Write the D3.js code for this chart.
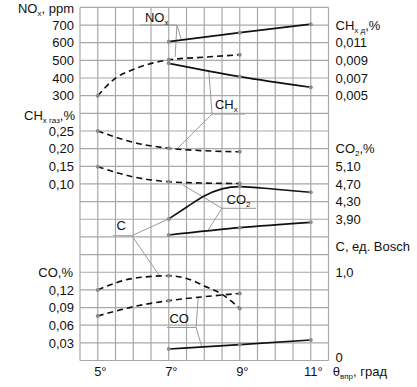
<!DOCTYPE html>
<html>
<head>
<meta charset="utf-8">
<script src="https://cdn.jsdelivr.net/npm/d3@7"></script>
<style>
  body { margin: 0; background: #fff; }
  text { font-family: "Liberation Sans", Arial, sans-serif; font-size: 13px; fill: #111; }
</style>
</head>
<body>
<div id="chart"></div>
<script>
// angle of injection advance, degrees
const angleTicks = [5, 7, 9, 11];

// left axes
const noxTicks = [300, 400, 500, 600, 700];
const chxGasTicks = [0.10, 0.15, 0.20, 0.25];
const coTicks = [0.03, 0.06, 0.09, 0.12];
// right axes
const chxDTicks = [0.005, 0.007, 0.009, 0.011];
const co2Ticks = [3.90, 4.30, 4.70, 5.10];
const cTicks = [0, 1.0];

// series (angle, value)
const noxSolidX = [7, 9, 11],            noxSolidV = [606, 657, 705];
const noxDashX = [5, 5.5, 6, 7, 8, 9],   noxDashV = [300, 399, 448, 503, 518, 532];
const chxDX = [7, 9, 11],                chxDV = [0.00866, 0.00716, 0.00596];
const chxGasX = [5, 6, 7, 8, 9],         chxGasV = [0.250, 0.218, 0.201, 0.194, 0.191];
const co2DashX = [5, 6, 7, 8, 9],        co2DashV = [5.09, 4.86, 4.75, 4.72, 4.71];
const cSolidX = [7, 7.5, 8, 8.5, 9, 10, 11], cSolidV = [1.604, 1.736, 1.864, 1.944, 1.97, 1.94, 1.906];
const co2SolidX = [7, 9, 11],            co2SolidV = [3.544, 3.71, 3.83];
const cDashX = [5, 6, 7, 7.5, 8, 8.5, 9], cDashV = [0.80, 0.93, 0.96, 0.93, 0.845, 0.75, 0.59];
const coDashX = [5, 6, 7, 8, 9],         coDashV = [0.0756, 0.0914, 0.1017, 0.1084, 0.114];
const coSolidX = [7, 9, 11],             coSolidV = [0.0195, 0.027, 0.0348];
const markAt = [5, 7, 9, 11];

const W = 417, H = 387;
const gLeft = 80, gRight = 328.5, gTop = 7.4, gBottom = 360.5;

const svg = d3.select("#chart").append("svg")
    .attr("width", W).attr("height", H);

const x = d3.scaleLinear().domain([4.5, 11.5]).range([gLeft, gRight]);
// grid rows, 20 cells
const row = d3.scaleLinear().domain([0, 20]).range([gBottom, gTop]);

const yNox = d3.scaleLinear().domain([300, 700]).range([row(15), row(19)]);
const yChxGas = d3.scaleLinear().domain([0.10, 0.25]).range([row(10), row(13)]);
const yCo = d3.scaleLinear().domain([0, 0.12]).range([row(0), row(4)]);
const yChxD = d3.scaleLinear().domain([0.005, 0.011]).range([row(15), row(18)]);
const yCo2 = d3.scaleLinear().domain([3.90, 5.10]).range([row(8), row(11)]);
const yC = d3.scaleLinear().domain([0, 1.0]).range([row(0), row(5)]);

// grid
const grid = svg.append("g").attr("stroke", "#a8a8a8").attr("stroke-width", 1.2);
grid.selectAll(".v").data(d3.range(4.5, 11.51, 0.5)).join("line")
    .attr("x1", d => x(d)).attr("x2", d => x(d))
    .attr("y1", gTop).attr("y2", gBottom);
grid.selectAll(".h").data(d3.range(0, 21)).join("line")
    .attr("x1", gLeft).attr("x2", gRight)
    .attr("y1", d => row(d)).attr("y2", d => row(d));

const comma = n => d => d === 0 ? "0" : d.toFixed(n).replace(".", ",");

function axis(gen, scale, ticks, fmt, tx) {
  const g = svg.append("g").attr("transform", `translate(${tx},0)`)
    .call(gen(scale).tickValues(ticks).tickSize(0).tickPadding(gen === d3.axisLeft ? 6 : 7).tickFormat(fmt));
  g.select(".domain").remove();
  g.selectAll("text").attr("font-size", 13).attr("font-family", null).attr("fill", "#111");
  return g;
}
axis(d3.axisLeft, yNox, noxTicks, d3.format("d"), gLeft);
axis(d3.axisLeft, yChxGas, chxGasTicks, comma(2), gLeft);
axis(d3.axisLeft, yCo, coTicks, comma(2), gLeft);
axis(d3.axisRight, yChxD, chxDTicks, comma(3), gRight);
axis(d3.axisRight, yCo2, co2Ticks, comma(2), gRight);
axis(d3.axisRight, yC, cTicks, comma(1), gRight)
  .selectAll(".tick").filter(d => d === 0).select("text").attr("dy", "0.05em");

// axis titles with subscripts
function title(px, py, parts, anchor) {
  const t = svg.append("text").attr("x", px).attr("y", py)
      .attr("dy", "0.35em").attr("text-anchor", anchor);
  let down = false;
  parts.forEach(p => {
    const s = t.append("tspan").text(p[0]);
    if (p[1]) { s.attr("font-size", 8).attr("dy", 3); down = true; }
    else if (down) { s.attr("dy", -3); down = false; }
  });
  return t;
}
title(gLeft - 6, row(20) + 1, [["NO"], ["x", 1], [", ppm"]], "end");
title(gLeft - 5, row(13.9), [["CH"], ["x газ", 1], [",%"]], "end");
title(gLeft - 7, row(5), [["CO,%"]], "end");
title(gRight + 7, row(19), [["CH"], ["x д", 1], [",%"]], "start");
title(gRight + 7, row(12), [["CO"], ["2", 1], [",%"]], "start");
title(gRight + 7, row(6.45), [["C, ед. Bosch"]], "start");

// x axis labels: digit centered on tick, degree sign after
angleTicks.forEach(a => {
  const t = svg.append("text").attr("y", 371).attr("dy", "0.35em").text(a);
  const w = t.node().getComputedTextLength();
  t.attr("x", x(a) - w / 2).text(a + "°");
});
title(x(11) + 22, 371, [["θ"], ["впр", 1], [", град"]], "start");

// curves
const curves = [
  [noxSolidX, noxSolidV, yNox, false],
  [noxDashX, noxDashV, yNox, true],
  [chxDX, chxDV, yChxD, false],
  [chxGasX, chxGasV, yChxGas, true],
  [co2DashX, co2DashV, yCo2, true],
  [cSolidX, cSolidV, yC, false],
  [co2SolidX, co2SolidV, yCo2, false],
  [cDashX, cDashV, yC, true],
  [coDashX, coDashV, yCo, true],
  [coSolidX, coSolidV, yCo, false]
];

// leader lines and labels (in angle / grid-row units)
const labels = [
  { text: [["NO"], ["x", 1]], at: [6.33, 19.45], shelf: [6.19, 7.23, 19.0], end: 7.23,
    to: [[7.35, 18.22], [7.18, 17.2]] },
  { text: [["CH"], ["x", 1]], at: [8.30, 14.48], shelf: [8.22, 9.15, 13.96], end: 8.22,
    to: [[8.13, 16.34], [7.26, 12.04]] },
  { text: [["C"]], at: [5.53, 7.65], shelf: [5.43, 5.96, 7.07], end: 5.96,
    to: [[7.0, 8.02], [6.73, 4.82]] },
  { text: [["CO"], ["2", 1]], at: [8.63, 9.15], shelf: [8.5, 9.46, 8.62], end: 8.5,
    to: [[7.4, 9.94], [8.11, 7.39]] },
  { text: [["CO"]], at: [7.02, 2.41], shelf: [6.95, 7.77, 1.87], end: 7.77,
    to: [[7.83, 3.61], [7.93, 0.78]] }
];
const lead = svg.append("g").attr("stroke", "#9a9a9a").attr("stroke-width", 1);
labels.forEach(l => {
  lead.append("line")
    .attr("x1", x(l.shelf[0])).attr("x2", x(l.shelf[1]))
    .attr("y1", row(l.shelf[2])).attr("y2", row(l.shelf[2]));
  l.to.forEach(p => lead.append("line")
    .attr("x1", x(l.end)).attr("y1", row(l.shelf[2]))
    .attr("x2", x(p[0])).attr("y2", row(p[1])));
});

curves.forEach(([xs, vs, ys, dashed]) => {
  const pts = xs.map((a, i) => [a, vs[i]]);
  svg.append("path").datum(pts)
    .attr("fill", "none").attr("stroke", "#111").attr("stroke-width", 1.6)
    .attr("stroke-dasharray", dashed ? "6,4" : null)
    .attr("d", d3.line().x(d => x(d[0])).y(d => ys(d[1])).curve(d3.curveMonotoneX));
  svg.append("g").selectAll("circle").data(pts.filter(d => markAt.includes(d[0]))).join("circle")
    .attr("cx", d => x(d[0])).attr("cy", d => ys(d[1])).attr("r", 2)
    .attr("fill", "#8a8a8a");
});

labels.forEach(l => title(x(l.at[0]), row(l.at[1]), l.text, "start").attr("font-size", 14));
</script>
</body>
</html>
